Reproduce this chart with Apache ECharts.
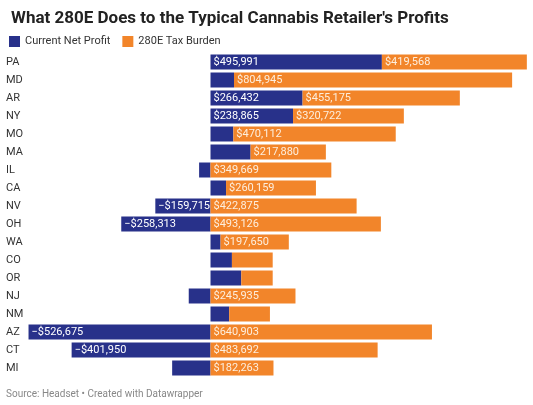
<!DOCTYPE html>
<html>
<head>
<meta charset="utf-8">
<script src="https://cdn.jsdelivr.net/npm/echarts@6/dist/echarts.min.js"></script>
<style>
  html, body { margin: 0; padding: 0; background: #fff; }
  #chart { width: 533px; height: 405px; }
</style>
</head>
<body>
<div id="chart"></div>
<script>
const states = ['PA', 'MD', 'AR', 'NY', 'MO', 'MA', 'IL', 'CA', 'NV', 'OH', 'WA', 'CO', 'OR', 'NJ', 'NM', 'AZ', 'CT', 'MI']
const netProfit = [495991, 68000, 266432, 238865, 66000, 116000, -33000, 45000, -159715, -258313, 29000, 62000, 89000, -63000, 54000, -526675, -401950, -111000]
const taxBurden = [419568, 804945, 455175, 320722, 470112, 217880, 349669, 260159, 422875, 493126, 197650, 118000, 91000, 245935, 118000, 640903, 483692, 182263]

const fmt = (v) => {
  if (Math.abs(v) < 150000) return ''
  const s = '$' + Math.abs(v).toLocaleString('en-US')
  return v < 0 ? '\u2212' + s : s
}

const chart = echarts.init(document.getElementById('chart'))
const labelStyle = {
  show: true,
  position: 'insideLeft',
  distance: 3,
  fontFamily: 'Roboto',
  fontSize: 11,
  formatter: (p) => fmt(p.value)
}

chart.setOption({
  animation: false,
  title: {
    text: 'What 280E Does to the Typical Cannabis Retailer\'s Profits',
    left: 6,
    top: 5,
    textStyle: { fontFamily: 'Roboto', fontWeight: 'bold', fontSize: 17, color: '#222' }
  },
  legend: {
    left: 4,
    top: 31,
    itemWidth: 11,
    itemHeight: 11,
    itemGap: 12,
    icon: 'rect',
    textStyle: { fontFamily: 'Roboto', fontSize: 11, color: '#333' }
  },
  graphic: [{
    type: 'text',
    left: 6,
    top: 389,
    style: { text: 'Source: Headset • Created with Datawrapper', fill: '#888', fontFamily: 'Roboto', fontSize: 10 }
  }],
  grid: { left: 26, right: 6, top: 53, bottom: 28 },
  xAxis: {
    type: 'value',
    min: -534000,
    max: 916000,
    show: false
  },
  yAxis: {
    type: 'category',
    data: states,
    inverse: true,
    axisLine: { show: false },
    axisTick: { show: false },
    axisLabel: { align: 'left', margin: 20, fontFamily: 'Roboto', fontSize: 11, color: '#333' }
  },
  series: [
    {
      name: 'Current Net Profit',
      type: 'bar',
      stack: 'total',
      barWidth: 15,
      itemStyle: { color: '#28318a' },
      label: { ...labelStyle, color: '#fff' },
      data: netProfit
    },
    {
      name: '280E Tax Burden',
      type: 'bar',
      stack: 'total',
      barWidth: 15,
      itemStyle: { color: '#f2852a' },
      label: { ...labelStyle, color: '#fdeedd' },
      data: taxBurden
    }
  ]
})
</script>
</body>
</html>
